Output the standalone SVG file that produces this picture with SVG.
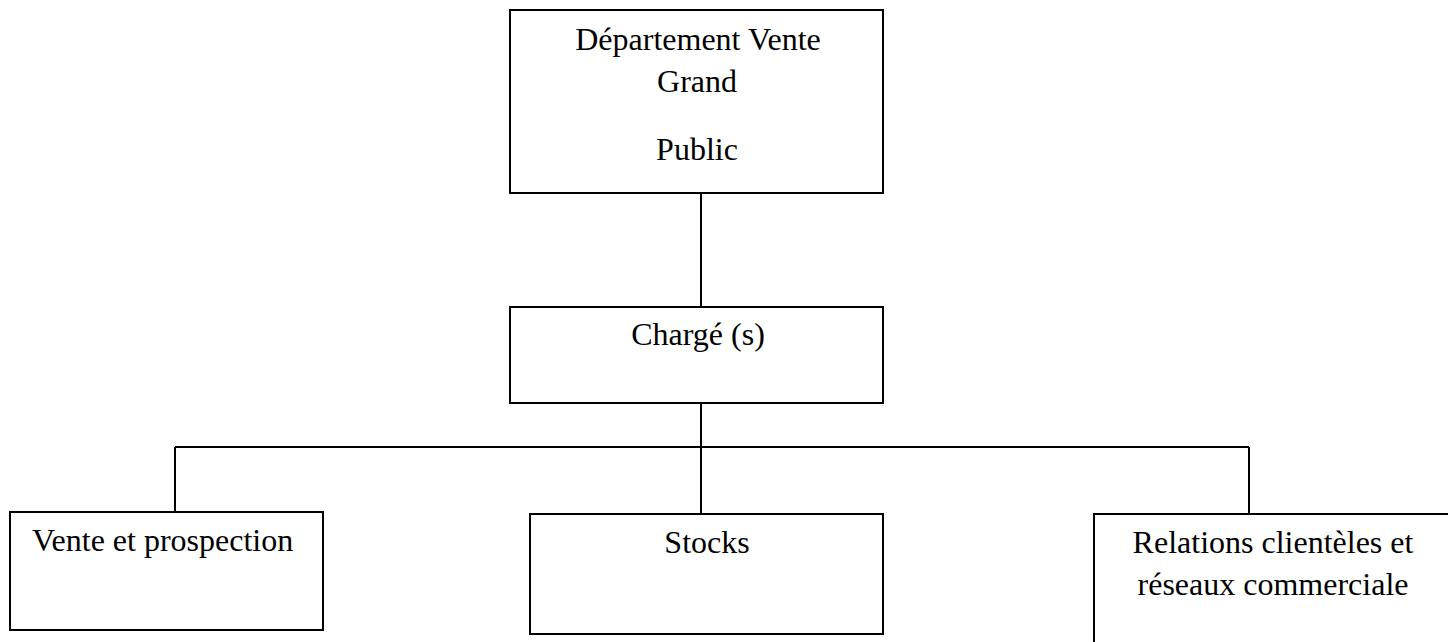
<svg xmlns="http://www.w3.org/2000/svg" width="1448" height="642" viewBox="0 0 1448 642">
  <style>
    .box { fill: #fff; stroke: #000; stroke-width: 2; }
    .link { fill: none; stroke: #000; stroke-width: 2; }
    .label { font-family: "Liberation Serif", "Times New Roman", serif; font-size: 32px; fill: #000; }
    .mid { text-anchor: middle; }
  </style>
  <rect width="1448" height="642" fill="#fff"/>

  <!-- connectors -->
  <g id="connectors">
    <line class="link" x1="701" y1="193" x2="701" y2="307"/>
    <line class="link" x1="701" y1="403" x2="701" y2="514"/>
    <line class="link" x1="175" y1="447" x2="1249" y2="447"/>
    <line class="link" x1="175" y1="447" x2="175" y2="512"/>
    <line class="link" x1="1249" y1="447" x2="1249" y2="514"/>
  </g>

  <!-- department head -->
  <g id="node-departement">
    <rect class="box" x="510" y="10" width="373" height="183"/>
    <text class="label mid" x="698" y="50">Département Vente</text>
    <text class="label mid" x="697" y="92">Grand</text>
    <text class="label mid" x="697" y="160">Public</text>
  </g>

  <!-- officer(s) -->
  <g id="node-charge">
    <rect class="box" x="510" y="307" width="373" height="96"/>
    <text class="label mid" x="698" y="345">Chargé (s)</text>
  </g>

  <!-- sales and prospecting -->
  <g id="node-vente">
    <rect class="box" x="10" y="512" width="313" height="118"/>
    <text class="label" x="32" y="551">Vente et prospection</text>
  </g>

  <!-- stock -->
  <g id="node-stocks">
    <rect class="box" x="530" y="514" width="353" height="120"/>
    <text class="label mid" x="707" y="553">Stocks</text>
  </g>

  <!-- customer relations -->
  <g id="node-relations">
    <rect class="box" x="1094" y="514" width="370" height="140"/>
    <text class="label mid" x="1273" y="553">Relations clientèles et</text>
    <text class="label mid" x="1273" y="595">réseaux commerciale</text>
  </g>
</svg>
